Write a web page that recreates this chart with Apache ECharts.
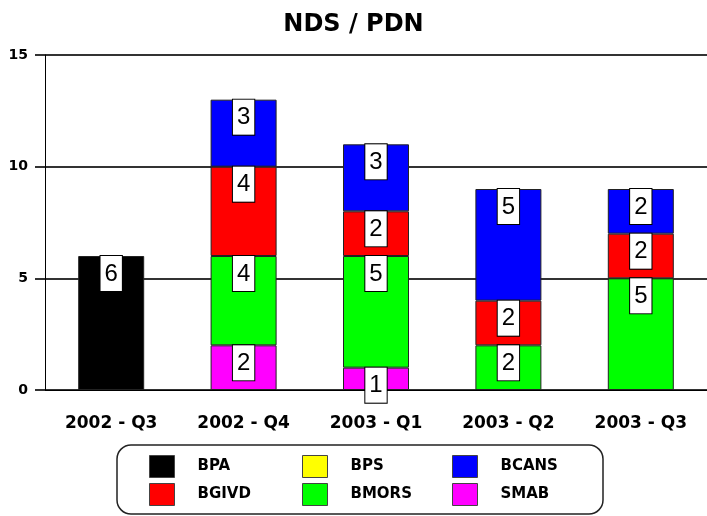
<!DOCTYPE html>
<html>
<head>
<meta charset="utf-8">
<script src="https://cdn.jsdelivr.net/npm/echarts@6/dist/echarts.min.js"></script>
<style>
  html, body { margin: 0; padding: 0; background: #fff; }
  #chart { width: 707px; height: 516px; }
</style>
</head>
<body>
<div id="chart"></div>
<script>
// categories and values
const categories = ['2002 - Q3', '2002 - Q4', '2003 - Q1', '2003 - Q2', '2003 - Q3'];
const smab  = [null, 2, 1, null, null];
const bmors = [null, 4, 5, 2, 5];
const bgivd = [null, 4, 2, 2, 2];
const bcans = [null, 3, 3, 5, 2];
const bpa   = [6, null, null, null, null];
const bps   = [null, null, null, null, null];
const yTicks = [0, 5, 10, 15];

const boldFont = 'DejaVu Sans';

function barSeries(name, data, color) {
  return {
    name: name,
    type: 'bar',
    stack: 'total',
    data: data,
    barWidth: 66,
    itemStyle: { color: color, borderColor: '#222', borderWidth: 1 },
    label: {
      show: true,
      position: 'insideTop',
      distance: 0,
      color: '#000',
      fontFamily: 'Liberation Sans',
      fontSize: 24,
      lineHeight: 24,
      backgroundColor: '#fff',
      borderColor: '#000',
      borderWidth: 1,
      padding: [6, 4, 5, 4]
    }
  };
}

function legendCol(left, names) {
  return {
    orient: 'vertical',
    left: left,
    top: 455,
    height: 58,
    padding: 0,
    itemWidth: 25,
    itemHeight: 22,
    itemGap: 5,
    selectedMode: false,
    icon: 'rect',
    data: names,
    textStyle: { fontFamily: boldFont, fontWeight: 'bold', fontSize: 15, color: '#000', padding: [0, 0, 0, 18] },
    itemStyle: { borderColor: '#444', borderWidth: 1 }
  };
}

const chart = echarts.init(document.getElementById('chart'));
chart.setOption({
  animation: false,
  backgroundColor: '#fff',
  title: {
    text: 'NDS / PDN',
    left: 'center',
    top: 8,
    textStyle: { fontFamily: boldFont, fontWeight: 'bold', fontSize: 24, color: '#000' }
  },
  legend: [
    legendCol(149, ['BPA', 'BGIVD']),
    legendCol(302, ['BPS', 'BMORS']),
    legendCol(452, ['BCANS', 'SMAB'])
  ],
  graphic: [{
    type: 'rect',
    shape: { x: 117, y: 445, width: 486, height: 69, r: 14 },
    style: { fill: 'none', stroke: '#222', lineWidth: 1.5 },
    silent: true
  }],
  grid: { left: 45, right: -6, top: 55, bottom: 126 },
  xAxis: {
    type: 'category',
    data: categories,
    axisLine: { lineStyle: { color: '#000', width: 1 } },
    axisTick: { alignWithLabel: true, length: 12, lineStyle: { color: '#000' } },
    axisLabel: { margin: 25, fontFamily: boldFont, fontWeight: 'bold', fontSize: 17, color: '#000' }
  },
  yAxis: {
    type: 'value',
    min: yTicks[0],
    max: yTicks[yTicks.length - 1],
    interval: 5,
    axisLine: { show: true, lineStyle: { color: '#000', width: 1 } },
    axisTick: { show: true, length: 10, lineStyle: { color: '#333', width: 2 } },
    axisLabel: { margin: 17, fontFamily: boldFont, fontWeight: 'bold', fontSize: 14, color: '#000' },
    splitLine: { lineStyle: { color: '#333', width: 2 } }
  },
  series: [
    barSeries('SMAB', smab, '#ff00ff'),
    barSeries('BMORS', bmors, '#00ff00'),
    barSeries('BGIVD', bgivd, '#ff0000'),
    barSeries('BCANS', bcans, '#0000ff'),
    barSeries('BPA', bpa, '#000000'),
    barSeries('BPS', bps, '#ffff00')
  ]
});
</script>
</body>
</html>
